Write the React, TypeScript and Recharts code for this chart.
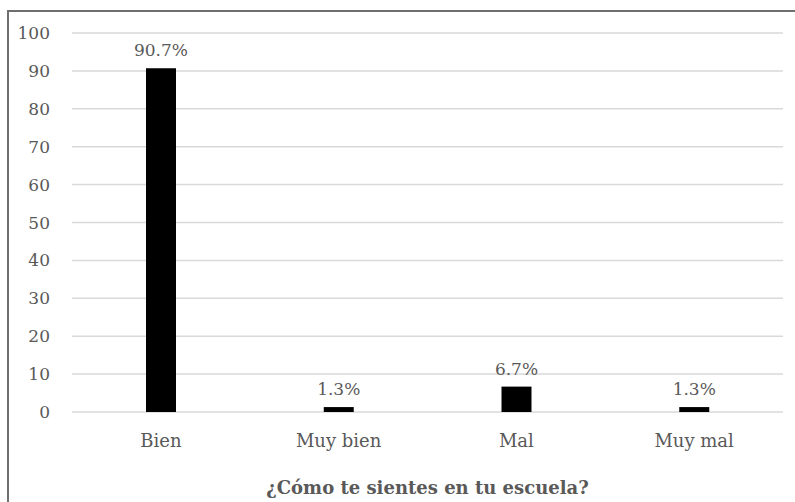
import React from 'react';
import { BarChart, Bar, XAxis, YAxis, CartesianGrid, LabelList } from 'recharts';

const categories = ['Bien', 'Muy bien', 'Mal', 'Muy mal'];
const percentages = [90.7, 1.3, 6.7, 1.3];
const yTicks = [0, 10, 20, 30, 40, 50, 60, 70, 80, 90, 100];

const data = categories.map((name, i) => ({ name, value: percentages[i] }));

const FONT = '"DejaVu Serif", serif';
const TEXT = '#595959';

const App: React.FC = () => (
  <div style={{ position: 'absolute', left: 0, top: 0, width: 795, height: 502, background: '#fff', overflow: 'hidden' }}>
    {/* chart frame: only the top and left edges fall inside the crop */}
    <div
      style={{
        position: 'absolute',
        left: 7,
        top: 10,
        width: 820,
        height: 520,
        borderTop: '2px solid #6f6f6f',
        borderLeft: '2px solid #6f6f6f',
      }}
    />
    <BarChart
      width={795}
      height={502}
      data={data}
      margin={{ top: 33, right: 12, left: 0, bottom: 0 }}
      style={{ position: 'absolute', left: 0, top: 0, fontFamily: FONT }}
    >
      <CartesianGrid vertical={false} stroke="#d9d9d9" strokeWidth={1.5} />
      <XAxis
        dataKey="name"
        height={90}
        axisLine={false}
        tickLine={false}
        tickMargin={16}
        tick={{ fill: TEXT, fontSize: 18, fontFamily: FONT }}
        label={{
          value: '¿Cómo te sientes en tu escuela?',
          position: 'insideBottom',
          offset: 8,
          fill: TEXT,
          fontSize: 18,
          fontWeight: 'bold',
          fontFamily: FONT,
        }}
      />
      <YAxis
        width={72}
        domain={[0, 100]}
        ticks={yTicks}
        interval={0}
        axisLine={false}
        tickLine={false}
        tickSize={0}
        tickMargin={22}
        tick={{ fill: TEXT, fontSize: 17, fontFamily: FONT }}
      />
      <Bar dataKey="value" fill="#000" barSize={30} isAnimationActive={false}>
        <LabelList
          dataKey="value"
          position="top"
          offset={12}
          formatter={(v: any) => `${v}%`}
          style={{ fill: TEXT, fontSize: 17, fontFamily: FONT }}
        />
      </Bar>
    </BarChart>
  </div>
);

export default App;
